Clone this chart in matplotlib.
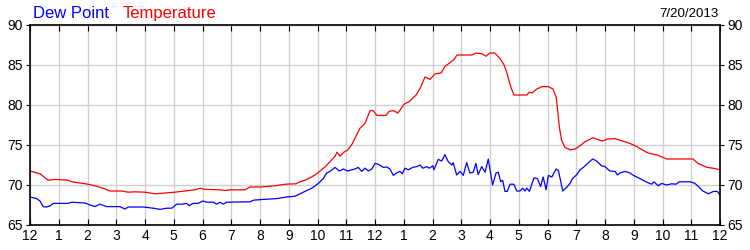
import matplotlib
matplotlib.use("Agg")
import matplotlib.pyplot as plt

plt.rcParams['font.family'] = ['Liberation Sans', 'DejaVu Sans']

# hours after midnight, degrees F
temp_hours = [0.00, 0.35, 0.52, 0.63, 0.87, 1.32, 1.46, 1.74, 2.02, 2.26, 2.54, 2.78,
              3.20, 3.41, 3.65, 4.00, 4.35, 4.70, 5.04, 5.39, 5.74, 5.91, 6.09, 6.61,
              6.78, 6.96, 7.48, 7.65, 8.00, 8.52, 8.87, 9.25, 9.39, 9.57, 9.74, 9.91,
              10.09, 10.26, 10.43, 10.61, 10.68, 10.78, 10.92, 11.06, 11.20, 11.34,
              11.48, 11.65, 11.83, 11.93, 12.07, 12.38, 12.49, 12.63, 12.80, 13.01,
              13.18, 13.43, 13.57, 13.74, 13.91, 14.09, 14.30, 14.43, 14.61, 14.75,
              14.85, 15.37, 15.51, 15.72, 15.86, 16.00, 16.17, 16.35, 16.49, 16.59,
              16.70, 16.83, 17.29, 17.36, 17.46, 17.63, 17.81, 18.02, 18.19, 18.30,
              18.34, 18.41, 18.49, 18.61, 18.78, 18.96, 19.13, 19.30, 19.58, 19.90,
              20.10, 20.35, 20.52, 20.87, 21.11, 21.29, 21.50, 21.81, 21.98, 22.16,
              23.06, 23.23, 23.55, 23.76, 24.00]
temperature = [71.75, 71.4, 70.9, 70.6, 70.7, 70.6, 70.4, 70.25, 70.1, 69.9, 69.6, 69.25,
               69.25, 69.1, 69.15, 69.1, 68.9, 69.0, 69.1, 69.25, 69.4, 69.6, 69.45, 69.4,
               69.3, 69.4, 69.4, 69.75, 69.75, 69.9, 70.1, 70.15, 70.4, 70.6, 70.9, 71.25,
               71.75, 72.25, 72.9, 73.6, 74.1, 73.6, 74.1, 74.4, 75.1, 76.1,
               77.1, 77.7, 79.3, 79.3, 78.7, 78.7, 79.2, 79.3, 79.0, 80.1,
               80.4, 81.25, 82.1, 83.5, 83.2, 83.9, 84.0, 84.8, 85.3, 85.7,
               86.25, 86.25, 86.5, 86.4, 86.1, 86.5, 86.5, 85.8, 85.0, 84.0,
               82.5, 81.25, 81.25, 81.6, 81.5, 82.0, 82.3, 82.3, 82.0, 81.0,
               79.8, 77.3, 75.6, 74.7, 74.4, 74.5, 74.9, 75.4, 75.9, 75.5,
               75.75, 75.8, 75.6, 75.2, 74.8, 74.4, 74.0, 73.75, 73.5, 73.25,
               73.25, 72.7, 72.2, 72.1, 71.9]

dew_hours = [0.00, 0.23, 0.35, 0.46, 0.58, 0.70, 0.81, 1.33, 1.45, 1.91, 2.09, 2.26, 2.43,
             2.67, 3.13, 3.30, 3.42, 3.94, 4.29, 4.52, 4.75, 4.93, 5.10, 5.28, 5.45, 5.54,
             5.66, 5.85, 6.01, 6.15, 6.38, 6.49, 6.61, 6.72, 6.84, 7.65, 7.77, 8.11, 8.58,
             8.93, 9.22, 9.39, 9.62, 9.80, 10.03, 10.20, 10.32, 10.43, 10.61, 10.76, 10.90,
             11.04, 11.19, 11.30, 11.42, 11.54, 11.65, 11.77, 11.89, 12.00, 12.11, 12.29,
             12.41, 12.52, 12.64, 12.75, 12.87, 12.95, 13.04, 13.16, 13.31, 13.45, 13.57,
             13.66, 13.80, 13.89, 14.01, 14.05, 14.20, 14.32, 14.43, 14.55, 14.67, 14.72,
             14.84, 14.96, 15.07, 15.19, 15.30, 15.42, 15.51, 15.59, 15.71, 15.83, 15.94,
             16.09, 16.21, 16.29, 16.37, 16.44, 16.52, 16.60, 16.70, 16.83, 16.93, 17.04,
             17.14, 17.22, 17.28, 17.37, 17.53, 17.65, 17.76, 17.85, 17.95, 18.03, 18.15,
             18.30, 18.38, 18.53, 18.69, 18.78, 18.87, 19.02, 19.13, 19.25, 19.36, 19.57,
             19.71, 19.88, 20.00, 20.17, 20.35, 20.43, 20.52, 20.70, 20.87, 20.99, 21.22,
             21.45, 21.62, 21.70, 21.85, 21.97, 22.14, 22.32, 22.47, 22.58, 22.96, 23.13,
             23.25, 23.40, 23.60, 23.77, 23.91, 24.00]
dew_point = [68.5, 68.3, 68.0, 67.3, 67.25, 67.4, 67.7, 67.7, 67.85, 67.75, 67.5, 67.3, 67.6,
             67.3, 67.3, 67.0, 67.25, 67.25, 67.1, 66.95, 67.1, 67.1, 67.6, 67.6, 67.7, 67.4,
             67.7, 67.7, 68.0, 67.85, 67.85, 67.6, 67.85, 67.6, 67.85, 67.9, 68.1, 68.2, 68.3,
             68.5, 68.6, 68.9, 69.3, 69.6, 70.2, 70.8, 71.5, 71.7, 72.2, 71.75, 72.0,
             71.75, 71.9, 72.0, 72.2, 71.7, 72.1, 71.75, 72.0, 72.7, 72.6, 72.2,
             72.25, 72.0, 71.2, 71.5, 71.7, 71.4, 72.1, 71.9, 72.2, 72.3, 72.5,
             72.1, 72.3, 72.1, 72.4, 71.9, 73.2, 73.0, 73.8, 72.9, 72.5, 72.8,
             71.25, 71.7, 71.2, 72.8, 71.5, 71.6, 72.7, 71.3, 72.3, 71.6, 73.25,
             70.0, 71.5, 71.6, 70.4, 70.6, 69.2, 69.2, 70.1, 70.1, 69.25, 69.25,
             69.6, 69.25, 69.6, 69.2, 70.9, 70.8, 69.8, 71.0, 69.4, 71.2, 71.0,
             72.0, 71.8, 69.25, 69.8, 70.2, 70.8, 71.3, 71.9, 72.2, 72.6, 73.25,
             73.0, 72.4, 72.3, 71.75, 71.7, 71.25, 71.5, 71.7, 71.5, 71.2, 70.8,
             70.35, 70.1, 70.4, 69.9, 70.2, 70.0, 70.15, 70.1, 70.4, 70.4, 70.2,
             69.8, 69.25, 68.9, 69.2, 69.2, 68.75]

hour_labels = ['12', '1', '2', '3', '4', '5', '6', '7', '8', '9', '10', '11',
               '12', '1', '2', '3', '4', '5', '6', '7', '8', '9', '10', '11', '12']
y_ticks = [65, 70, 75, 80, 85, 90]
date_text = '7/20/2013'

fig = plt.figure(figsize=(7.5, 2.5), dpi=100)
ax = fig.add_axes([0.04, 0.1, 0.92, 0.8])

ax.plot(dew_hours, dew_point, color='#0000ff', linewidth=0.9)
ax.plot(temp_hours, temperature, color='#ff0000', linewidth=0.9)

ax.set_xlim(0, 24)
ax.set_ylim(65, 90)
ax.set_xticks(range(25))
ax.set_xticklabels(hour_labels)
ax.set_yticks(y_ticks)
ax.grid(True, color='#d0d0d0', linewidth=1)
ax.set_axisbelow(True)

ax.tick_params(axis='x', which='both', direction='in', top=True, bottom=True,
               length=4, labelsize=10, pad=3)
ax.tick_params(axis='y', which='both', direction='out', left=True, right=True,
               labelleft=True, labelright=True, length=3, labelsize=10, pad=2)
for s in ax.spines.values():
    s.set_linewidth(1.2)

fig.text(0.044, 0.945, 'Dew Point', color='#0000ff', fontsize=12, va='center', ha='left')
fig.text(0.164, 0.945, 'Temperature', color='#ff0000', fontsize=12, va='center', ha='left')
fig.text(0.958, 0.945, date_text, color='#000000', fontsize=9.6, va='center', ha='right')

plt.savefig('out.png', dpi=100)
